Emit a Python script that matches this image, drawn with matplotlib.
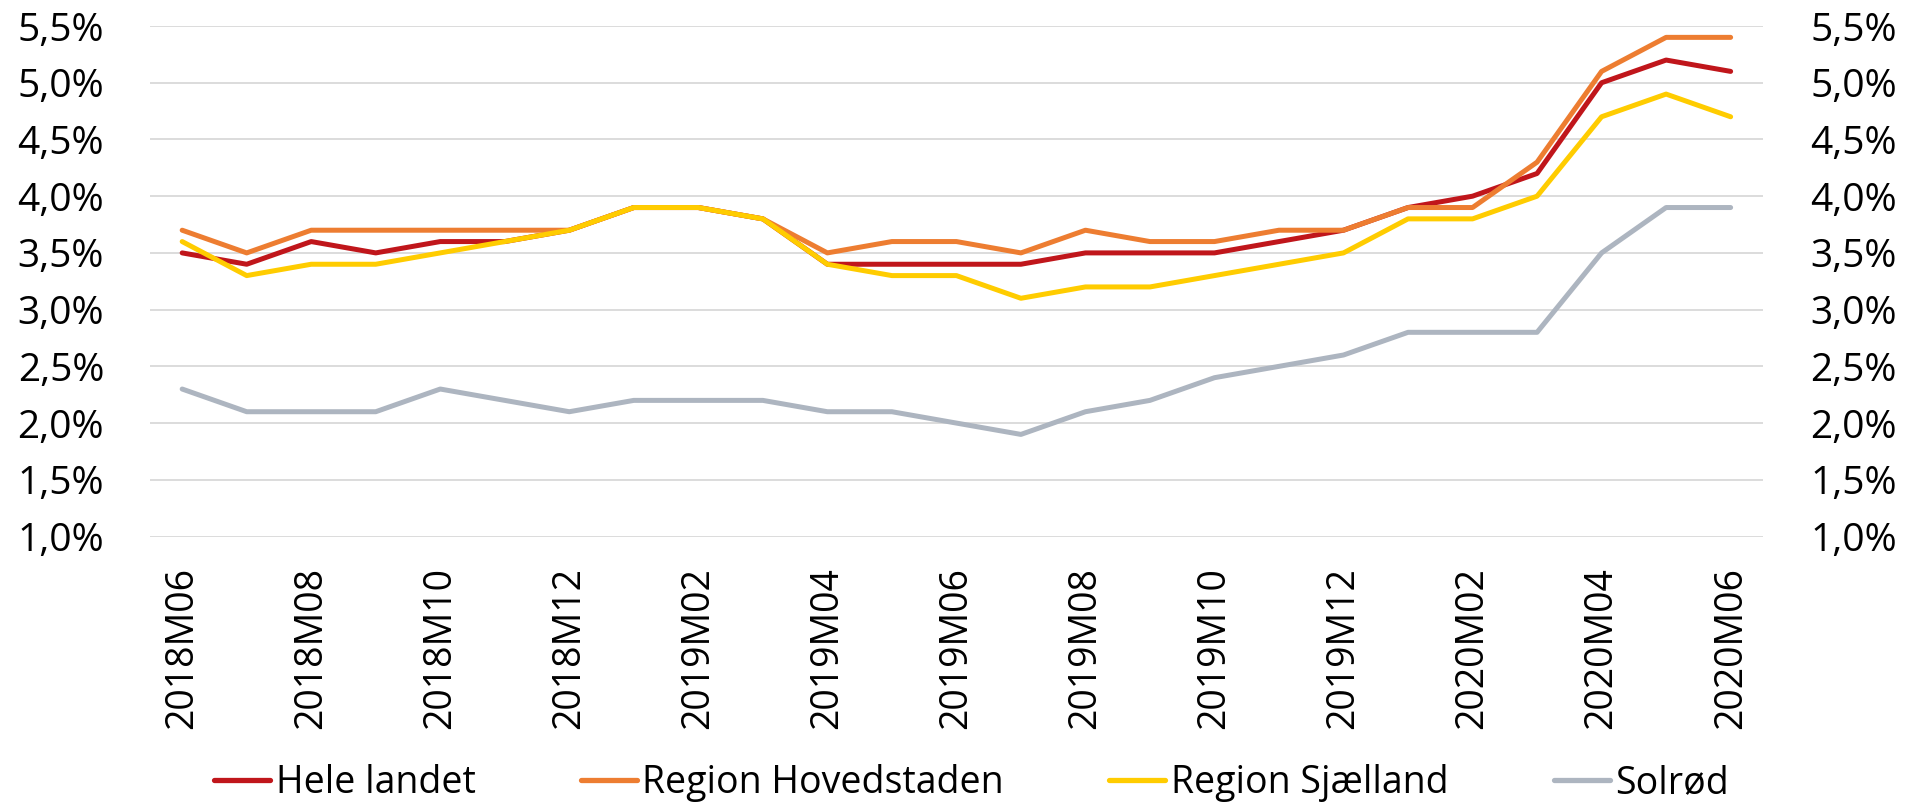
import matplotlib.pyplot as plt
from matplotlib.ticker import FuncFormatter

# data
months = ["2018M06", "2018M07", "2018M08", "2018M09", "2018M10", "2018M11",
          "2018M12", "2019M01", "2019M02", "2019M03", "2019M04", "2019M05",
          "2019M06", "2019M07", "2019M08", "2019M09", "2019M10", "2019M11",
          "2019M12", "2020M01", "2020M02", "2020M03", "2020M04", "2020M05",
          "2020M06"]

hele_landet = [3.5, 3.4, 3.6, 3.5, 3.6, 3.6, 3.7, 3.9, 3.9, 3.8, 3.4, 3.4, 3.4,
               3.4, 3.5, 3.5, 3.5, 3.6, 3.7, 3.9, 4.0, 4.2, 5.0, 5.2, 5.1]
hovedstaden = [3.7, 3.5, 3.7, 3.7, 3.7, 3.7, 3.7, 3.9, 3.9, 3.8, 3.5, 3.6, 3.6,
               3.5, 3.7, 3.6, 3.6, 3.7, 3.7, 3.9, 3.9, 4.3, 5.1, 5.4, 5.4]
sjaelland = [3.6, 3.3, 3.4, 3.4, 3.5, 3.6, 3.7, 3.9, 3.9, 3.8, 3.4, 3.3, 3.3,
             3.1, 3.2, 3.2, 3.3, 3.4, 3.5, 3.8, 3.8, 4.0, 4.7, 4.9, 4.7]
solroed = [2.3, 2.1, 2.1, 2.1, 2.3, 2.2, 2.1, 2.2, 2.2, 2.2, 2.1, 2.1, 2.0,
           1.9, 2.1, 2.2, 2.4, 2.5, 2.6, 2.8, 2.8, 2.8, 3.5, 3.9, 3.9]

series = [
    ("Hele landet", hele_landet, "#C0161B"),
    ("Region Hovedstaden", hovedstaden, "#ED7D31"),
    ("Region Sjælland", sjaelland, "#FFCC00"),
    ("Solrød", solroed, "#ADB5C0"),
]

plt.rcParams["font.family"] = ["Open Sans", "DejaVu Sans"]

fig = plt.figure(figsize=(19.05, 8.08), dpi=100)
ax = fig.add_axes([0.0787, 0.336, 0.8467, 0.6318])

x = list(range(len(months)))
for name, vals, col in series:
    ax.plot(x, vals, color=col, lw=3.6, label=name, solid_capstyle="round")

ax.set_ylim(1.0, 5.5)
ax.set_xlim(-0.5, len(months) - 0.5)
ax.set_yticks([1.0, 1.5, 2.0, 2.5, 3.0, 3.5, 4.0, 4.5, 5.0, 5.5])
pct = FuncFormatter(lambda v, p: f"{v:.1f}%".replace(".", ","))
ax.yaxis.set_major_formatter(pct)
ax.grid(axis="y", color="#D9D9D9", lw=1.3)
ax.set_axisbelow(True)

ax.set_xticks(x[::2])
ax.set_xticklabels(months[::2], rotation=90, fontsize=27)
ax.tick_params(axis="x", length=0, pad=22)
ax.tick_params(axis="y", length=0, labelsize=28, pad=33)
for s in ax.spines.values():
    s.set_visible(False)

ax2 = ax.twinx()
ax2.set_ylim(ax.get_ylim())
ax2.set_yticks(ax.get_yticks())
ax2.yaxis.set_major_formatter(pct)
ax2.tick_params(axis="y", length=0, labelsize=28, pad=34)
for s in ax2.spines.values():
    s.set_visible(False)

leg = fig.legend(loc="center", bbox_to_anchor=(0.51, 0.031), ncol=4, frameon=False,
                 fontsize=27, handlelength=1.5, handletextpad=0.15, columnspacing=2.8)
for h in leg.get_lines():
    h.set_linewidth(3.8)

plt.savefig("out.png", dpi=100)
